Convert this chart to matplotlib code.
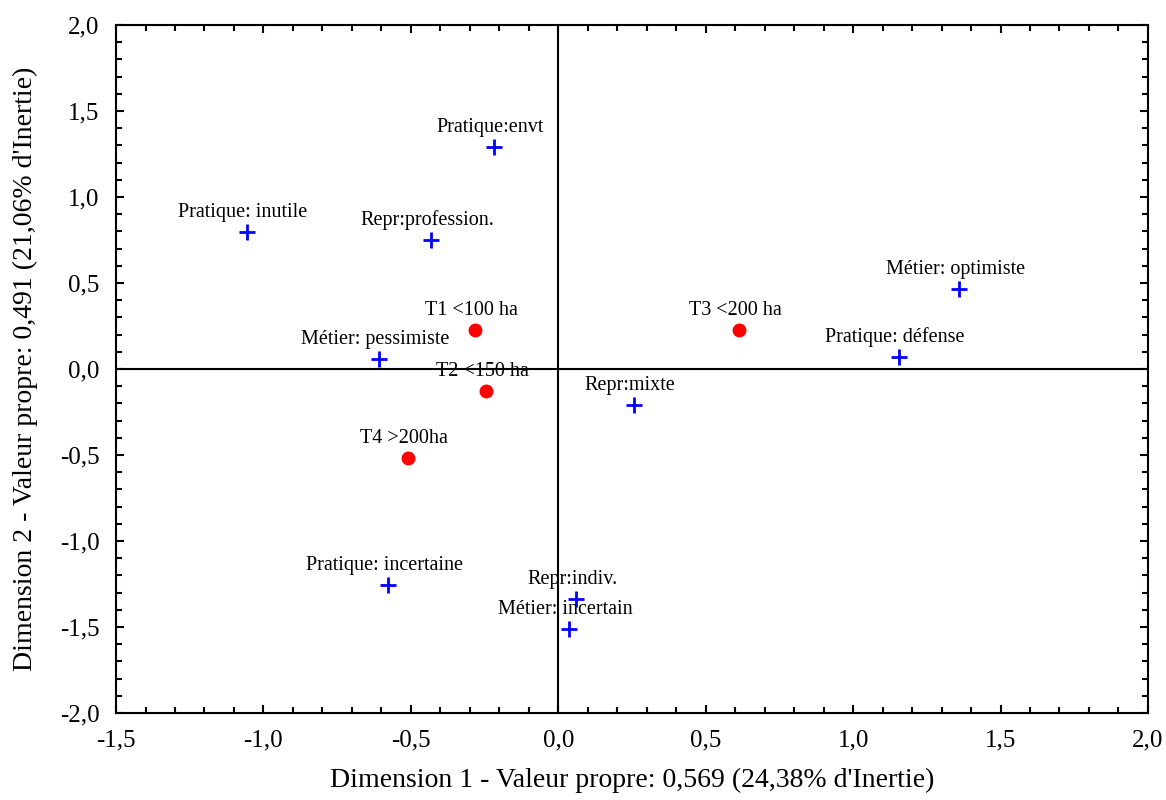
import numpy as np
import matplotlib.pyplot as plt
from matplotlib.ticker import MultipleLocator, FuncFormatter

plt.rcParams['font.family'] = ['Liberation Serif', 'DejaVu Serif']

# modalites (croix bleues)
mod_noms = ["Pratique:envt", "Pratique: inutile", "Repr:profession.", "Métier: optimiste",
            "Pratique: défense", "Métier: pessimiste", "Repr:mixte", "Pratique: incertaine",
            "Repr:indiv.", "Métier: incertain"]
mod_x = [-0.217, -1.055, -0.431, 1.360, 1.156, -0.607, 0.258, -0.576, 0.061, 0.037]
mod_y = [1.290, 0.797, 0.750, 0.465, 0.070, 0.058, -0.209, -1.256, -1.337, -1.510]

# types d'exploitation (points rouges)
typ_noms = ["T1 <100 ha", "T2 <150 ha", "T3 <200 ha", "T4 >200ha"]
typ_x = [-0.281, -0.244, 0.614, -0.509]
typ_y = [0.227, -0.128, 0.227, -0.517]

fig = plt.figure(figsize=(11.66, 8), dpi=100, facecolor='white')
ax = fig.add_axes([0.0995, 0.10875, 0.885, 0.86])

ax.axhline(0, color='black', linewidth=1.5, zorder=1)
ax.axvline(0, color='black', linewidth=1.5, zorder=1)

ax.plot(mod_x, mod_y, linestyle='none', marker='+', color='blue',
        markersize=11, markeredgewidth=2, zorder=3)
ax.plot(typ_x, typ_y, linestyle='none', marker='o', color='red',
        markersize=9, zorder=3)

for n, x, y in zip(mod_noms + typ_noms, mod_x + typ_x, mod_y + typ_y):
    ax.annotate(n, (x, y), xytext=(-3, 7), textcoords='offset points',
                ha='center', va='bottom', fontsize=14.5, zorder=4)

ax.set_xlim(-1.5, 2.0)
ax.set_ylim(-2.0, 2.0)
ax.xaxis.set_major_locator(MultipleLocator(0.5))
ax.xaxis.set_minor_locator(MultipleLocator(0.1))
ax.yaxis.set_major_locator(MultipleLocator(0.5))
ax.yaxis.set_minor_locator(MultipleLocator(0.1))
fmt = FuncFormatter(lambda v, p: ("%.1f" % v).replace('.', ','))
ax.xaxis.set_major_formatter(fmt)
ax.yaxis.set_major_formatter(fmt)
ax.tick_params(which='both', direction='in', top=True, right=True, width=1.5)
ax.tick_params(which='major', length=6, labelsize=18, pad=12)
ax.tick_params(which='minor', length=4)
for s in ax.spines.values():
    s.set_linewidth(1.5)

ax.set_xlabel("Dimension 1 - Valeur propre: 0,569 (24,38% d'Inertie)", fontsize=20, labelpad=12)
ax.set_ylabel("Dimension 2 - Valeur propre: 0,491 (21,06% d'Inertie)", fontsize=20, labelpad=16)

fig.savefig('out.png', dpi=100, facecolor='white')
